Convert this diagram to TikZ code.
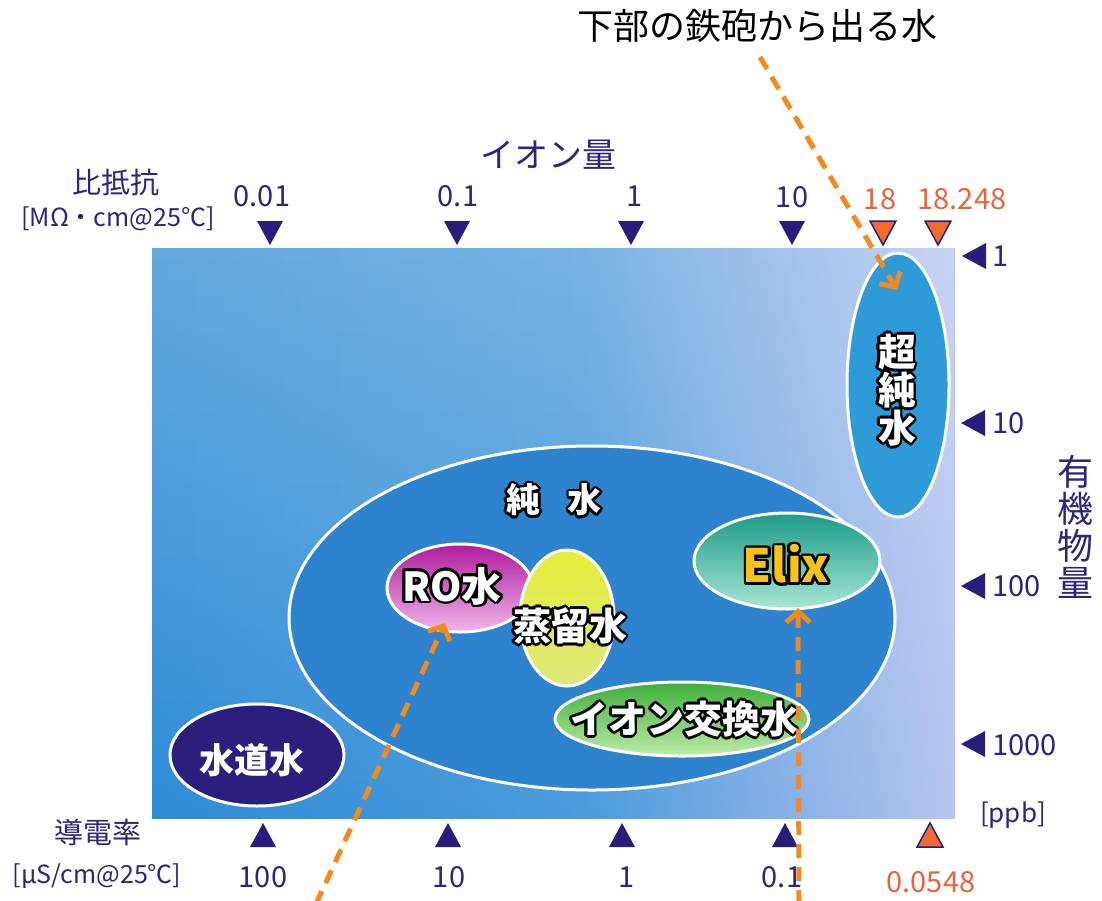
\documentclass[tikz,border=0pt]{standalone}
\usepackage{fontspec}
\setmainfont{Noto Sans CJK JP}
\usetikzlibrary{arrows.meta,calc,fadings,shapes.geometric}
\definecolor{navy}{HTML}{2A2580}
\definecolor{tri}{HTML}{271E7C}
\definecolor{orangeT}{HTML}{E8643C}
\definecolor{orangeF}{HTML}{F26A2E}
\definecolor{arrowO}{HTML}{F28A1E}
\definecolor{bgA}{HTML}{2E8CD5}
\definecolor{bgB}{HTML}{4A9BDC}
\definecolor{bgC}{HTML}{8DB3E8}
\definecolor{bgD}{HTML}{B7C5F0}
\definecolor{pureF}{HTML}{2D83CE}
\definecolor{ultraF}{HTML}{2E9BD8}
\definecolor{tapF}{HTML}{2B1F7E}
\definecolor{roTop}{HTML}{B01C9C}
\definecolor{roBot}{HTML}{F0B4EA}
\definecolor{distTop}{HTML}{E6EE3A}
\definecolor{distBot}{HTML}{DDE87A}
\definecolor{elixTop}{HTML}{1C9C88}
\definecolor{elixBot}{HTML}{A8E6D6}
\definecolor{ionTop}{HTML}{3EAE3A}
\definecolor{ionBot}{HTML}{BDEBA8}
\definecolor{elixTxt}{HTML}{F5C31C}
\pgfdeclarehorizontalshading{bgshade}{100bp}{color(0bp)=(bgA); color(25bp)=(bgA); color(52bp)=(bgB); color(66bp)=(bgC); color(75bp)=(bgD); color(100bp)=(bgD)}
\newcommand\olt[4]{%
  \foreach \ang in {0,30,...,330}{\node[olab,#3,text=black] at ($(#2)+(\ang:2.6)$) {#4};}
  \node[olab,#3] (#1) at (#2) {#4};}
\begin{document}
\begin{tikzpicture}[x=1pt,y=-1pt,
  lab/.style={font=\fontsize{29}{31}\selectfont, text=navy, inner sep=0},
  unitlab/.style={font=\fontsize{25}{27}\selectfont, text=navy, inner sep=0},
  olab/.style={font=\fontsize{38}{38}\selectfont\bfseries, text=white, inner sep=0, align=center},
  ell/.style={ellipse, draw=white, line width=3pt, inner sep=0},
  oarr/.style={draw=arrowO, line width=5pt, dash pattern=on 14pt off 9pt, -{Straight Barb[length=11pt,width=24pt]}},
  tridown/.pic={\fill[tri] (-13,0) -- (13,0) -- (0,24) -- cycle;},
  otridown/.pic={\filldraw[fill=orangeF, draw=tri, line width=1.5pt] (-13,0) -- (13,0) -- (0,24) -- cycle;},
  triup/.pic={\fill[tri] (-13,0) -- (13,0) -- (0,-24) -- cycle;},
  otriup/.pic={\filldraw[fill=orangeF, draw=tri, line width=1.5pt] (-13,0) -- (13,0) -- (0,-24) -- cycle;},
  trileft/.pic={\fill[tri] (0,-13) -- (0,13) -- (-24,0) -- cycle;}
]
\useasboundingbox (0,0) rectangle (1102,900);
\fill[white] (0,0) rectangle (1102,900);

% chart background
\shade[shading=bgshade] (152,248) rectangle (955,818);
\fill[white, opacity=0.25, path fading=south] (152,248) rectangle (955,818);

% ellipses
\node[ell, fill=pureF, minimum width=606pt, minimum height=344pt] (pure) at (592,618) {};
\node[ell, fill=ultraF, minimum width=102pt, minimum height=264pt] (ultra) at (898,385) {};
\node[ell, fill=tapF, minimum width=174pt, minimum height=102pt] (tap) at (257,755) {};
\node[ell, top color=roTop, bottom color=roBot, minimum width=146pt, minimum height=88pt] (ro) at (460,588) {};
\node[ell, top color=distTop, bottom color=distBot, minimum width=94pt, minimum height=136pt] (dist) at (567,618) {};
\node[ell, top color=elixTop, bottom color=elixBot, minimum width=186pt, minimum height=96pt] (elix) at (787,561) {};
\node[ell, top color=ionTop, bottom color=ionBot, minimum width=254pt, minimum height=74pt] (ion) at (682,719) {};

% ellipse labels
\olt{tPure}{554,500}{font=\fontsize{34}{34}\selectfont\bfseries}{純\hspace{0.8em}水}
\olt{tRO}{452,586}{font=\fontsize{40}{40}\selectfont\bfseries}{RO水}
\olt{tDist}{570,626}{}{蒸留水}
\olt{tElix}{786,564}{font=\fontsize{46}{46}\selectfont\bfseries, text=elixTxt}{Elix}
\olt{tIon}{684,719}{}{イオン交換水}
\olt{tUltra}{897,390}{}{超\\純\\水}
\node[olab, font=\fontsize{35}{35}\selectfont\bfseries] (tTap) at (252,760) {水道水};

% top axis
\node[font=\fontsize{36}{38}\selectfont, inner sep=0] (title) at (757,26) {下部の鉄砲から出る水};
\node[lab, font=\fontsize{34}{36}\selectfont] (ionq) at (548,155) {イオン量};
\node[lab] (resist) at (116,182) {比抵抗};
\node[unitlab] (resistu) at (118,219) {[MΩ・cm@25℃]};
\node[lab] (r1) at (262,196) {0.01};
\node[lab] (r2) at (458,196) {0.1};
\node[lab] (r3) at (635,196) {1};
\node[lab] (r4) at (792,197) {10};
\node[lab, text=orangeT] (r5) at (880,199) {18};
\node[lab, text=orangeT] (r6) at (962,199) {18.248};
\pic at (270,221) {tridown};
\pic at (457,221) {tridown};
\pic at (631,221) {tridown};
\pic at (792,221) {tridown};
\pic at (883,221) {otridown};
\pic at (938,221) {otridown};

% right axis
\pic at (986,256) {trileft};
\pic at (985,423) {trileft};
\pic at (985,586) {trileft};
\pic at (985,744) {trileft};
\node[lab, anchor=west] (o1) at (992,256) {1};
\node[lab, anchor=west] (o2) at (992,423) {10};
\node[lab, anchor=west] (o3) at (992,586) {100};
\node[lab, anchor=west] (o4) at (992,745) {1000};
\node[lab, font=\fontsize{36}{37}\selectfont, align=center] (org) at (1075,527) {有\\機\\物\\量};
\node[unitlab, font=\fontsize{26}{28}\selectfont] (ppb) at (1013,815) {[ppb]};

% bottom axis
\node[lab] (cond) at (98,832) {導電率};
\node[unitlab] (condu) at (97,876) {[μS/cm@25℃]};
\pic at (263,847) {triup};
\pic at (448,847) {triup};
\pic at (622,847) {triup};
\pic at (785,847) {triup};
\pic at (930,847) {otriup};
\node[lab] (c1) at (263,877) {100};
\node[lab] (c2) at (449,877) {10};
\node[lab] (c3) at (627,877) {1};
\node[lab] (c4) at (782,877) {0.1};
\node[lab, text=orangeT] (c5) at (931,882) {0.0548};

% arrows
\coordinate (a1s) at (760,57);
\coordinate (a1e) at (897,290);
\coordinate (a2s) at (316,904);
\coordinate (a2e) at (445,623);
\coordinate (a3s) at (799,904);
\coordinate (a3e) at (798,608);
\draw[oarr] (a1s) -- (a1e);
\draw[oarr] (a2s) -- (a2e);
\draw[oarr] (a3s) -- (a3e);
\end{tikzpicture}
\end{document}
